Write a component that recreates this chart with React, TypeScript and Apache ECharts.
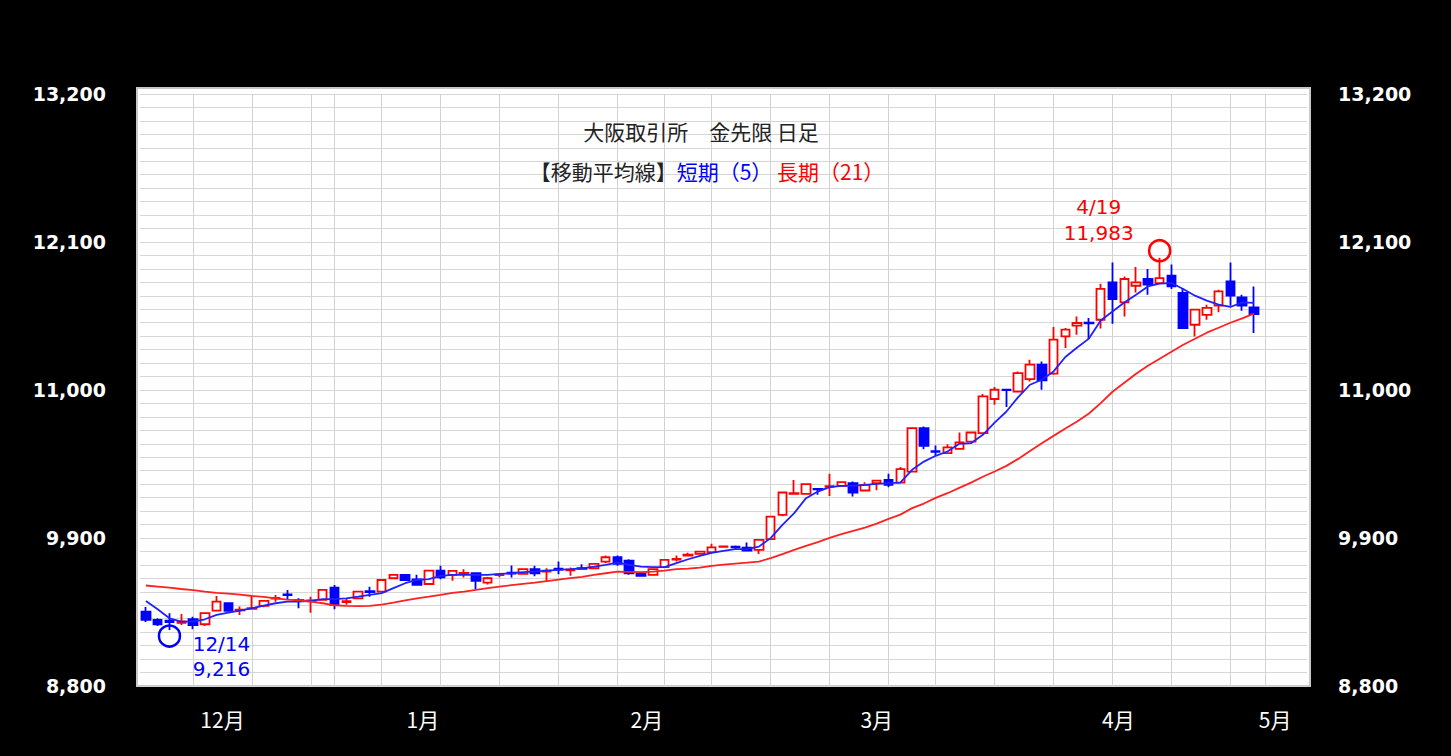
import React, { useEffect, useRef } from "react";
import * as echarts from "echarts";

const categories = [
  "12/12","12/13","12/14","12/15","12/18","12/19","12/20","12/21","12/22","12/25","12/26","12/27","12/28","12/29",
  "1/4","1/5","1/9","1/10","1/11","1/12","1/15","1/16","1/17","1/18","1/19","1/22","1/23","1/24","1/25","1/26","1/29","1/30","1/31",
  "2/1","2/2","2/5","2/6","2/7","2/8","2/9","2/13","2/14","2/15","2/16","2/19","2/20","2/21","2/22","2/26","2/27","2/28","2/29",
  "3/1","3/4","3/5","3/6","3/7","3/8","3/11","3/12","3/13","3/14","3/15","3/18","3/19","3/21","3/22","3/25","3/26","3/27","3/28","3/29",
  "4/1","4/2","4/3","4/4","4/5","4/8","4/9","4/10","4/11","4/12","4/15","4/16","4/17","4/18","4/19","4/22","4/23","4/24","4/25","4/26","4/30",
  "5/1","5/2","5/7","5/8","5/9","5/10",
];

const opens = [
  9353,9291,9285,9270,9296,9259,9360,9415,9362,9374,9395,9450,9480,9438,
  9430,9440,9531,9424,9452,9505,9501,9601,9626,9593,9558,9657,9626,9635,9638,9568,9624,9643,9633,
  9668,9650,9672,9660,9675,9675,9725,9757,9732,9638,9626,9683,9740,9770,9782,9795,9835,9835,9828,
  9812,9891,10072,10228,10228,10265,10280,10288,10308,10253,10308,10332,10312,10394,10717,10545,10531,10563,10617,10680,
  10933,11003,10989,11081,11188,11121,11398,11478,11500,11522,11800,11651,11775,11825,11795,11850,11721,11485,11559,11627,11807,
  11689,11614,
];
const closes = [
  9291,9259,9275,9280,9253,9341,9427,9358,9368,9378,9432,9455,9475,9432,
  9436,9514,9403,9430,9501,9498,9588,9626,9588,9551,9657,9608,9655,9640,9581,9601,9627,9636,9668,
  9638,9657,9666,9665,9670,9707,9757,9707,9638,9618,9668,9737,9745,9777,9799,9830,9838,9830,9806,
  9886,10059,10238,10233,10300,10262,10285,10315,10238,10295,10327,10295,10412,10717,10585,10540,10573,10610,10684,10952,
  11002,11000,11126,11188,11071,11374,11448,11498,11495,11751,11676,11825,11800,11783,11832,11770,11460,11597,11610,11733,11701,
  11627,11565,
];
const lows = [
  9276,9246,9216,9253,9222,9246,9360,9355,9328,9373,9385,9427,9440,9378,
  9345,9440,9370,9403,9452,9464,9498,9601,9588,9545,9550,9594,9583,9606,9519,9555,9608,9606,9630,
  9615,9576,9631,9620,9665,9670,9715,9693,9626,9613,9622,9680,9725,9765,9777,9790,9832,9815,9799,
  9782,9889,10062,10221,10224,10221,10213,10286,10208,10245,10255,10278,10305,10394,10560,10511,10526,10563,10610,10680,
  10890,10873,10982,11063,11002,11113,11312,11411,11379,11458,11493,11547,11725,11708,11795,11751,11453,11398,11522,11577,11627,
  11589,11423,
];
const highs = [
  9388,9304,9341,9335,9315,9345,9469,9418,9390,9464,9435,9477,9514,9452,
  9464,9517,9551,9450,9501,9538,9590,9630,9626,9626,9660,9693,9655,9668,9643,9610,9638,9695,9676,
  9693,9676,9725,9680,9705,9710,9770,9770,9742,9640,9670,9740,9770,9790,9805,9857,9842,9845,9866,
  9886,10062,10242,10332,10305,10270,10377,10322,10320,10315,10330,10377,10427,10720,10729,10587,10597,10684,10687,10970,
  11022,11007,11138,11225,11212,11468,11460,11547,11535,11790,11948,11844,11914,11899,11983,11932,11758,11597,11634,11745,11948,
  11708,11770,
];

const ma5 = [
  9432,9370,9303,9278,9278,9296,9328,9345,9360,9378,9397,9415,9427,9427,
  9432,9445,9445,9452,9464,9477,9490,9527,9564,9588,9595,9618,9626,9626,9626,9626,9633,9638,9646,
  9650,9657,9663,9668,9675,9687,9700,9717,9700,9687,9683,9683,9713,9742,9767,9790,9804,9817,9817,
  9836,9899,9998,10085,10196,10245,10278,10288,10288,10295,10303,10308,10312,10407,10468,10511,10543,10600,10605,10667,
  10758,10840,10947,11039,11076,11138,11245,11316,11382,11517,11584,11651,11708,11770,11790,11795,11751,11701,11664,11634,11617,
  11651,11648,
];
const ma21 = [
  9547,9539,9531,9521,9512,9501,9492,9487,9479,9469,9462,9452,9442,9437,
  9427,9415,9400,9395,9393,9395,9405,9420,9437,9452,9464,9477,9492,9501,9514,9527,9539,9549,9559,
  9568,9579,9591,9601,9611,9626,9638,9650,9648,9646,9650,9657,9668,9672,9680,9693,9702,9710,9717,
  9725,9750,9780,9812,9841,9869,9901,9928,9953,9977,10007,10042,10074,10122,10156,10198,10233,10273,10312,10355,
  10394,10436,10488,10546,10605,10659,10714,10766,10825,10903,10987,11054,11121,11180,11232,11284,11336,11381,11426,11463,11500,
  11533,11567,
];

const monthLabels = ["12月", "1月", "2月", "3月", "4月", "5月"];
const monthLabelPos = [6.5, 23.5, 42.5, 62, 82.5, 95.8];
const weekStartIdx = [4, 9, 14, 16, 20, 25, 30, 35, 40, 44, 48, 53, 58, 63, 67, 72, 77, 82, 87, 92, 95];

const yMin = 8800;
const yMax = 13200;
const yStep = 1100;

const lowMark = { date: "12/14", value: 9216, dateText: "12/14", valueText: "9,216" };
const highMark = { date: "4/19", value: 11983, dateText: "4/19", valueText: "11,983" };

const titleText = "大阪取引所　金先限 日足";

function fmt(v: number) {
  return String(v).replace(/\B(?=(\d{3})+(?!\d))/g, ",");
}

function textMark(date: string, value: number, text: string, color: string, offset: number[]) {
  return {
    coord: [date, value],
    symbol: "circle",
    symbolSize: 1,
    itemStyle: { color: "rgba(0,0,0,0)" },
    label: {
      show: true,
      position: "inside",
      formatter: text,
      offset,
      color,
      fontSize: 20,
      lineHeight: 20,
      fontFamily: "DejaVu Sans",
    },
  };
}

export default function App() {
  const ref = useRef<HTMLDivElement>(null);
  useEffect(() => {
    if (!ref.current) return;
    const chart = echarts.init(ref.current, undefined, { renderer: "svg" });
    const ohlc = opens.map((o, i) => [o, closes[i], lows[i], highs[i]]);
    const n = categories.length;
    const yLabel = {
      color: "#ffffff",
      fontFamily: "DejaVu Sans",
      fontWeight: "bold" as const,
      fontSize: 19,
      formatter: (v: number) => fmt(v),
    };
    chart.setOption({
      animation: false,
      backgroundColor: "#000000",
      graphic: [
        {
          type: "rect",
          z: -100,
          shape: { x: 137, y: 88, width: 1173, height: 598 },
          style: { fill: "#ffffff", stroke: "#c8c8c8", lineWidth: 2 },
          silent: true,
        },
        {
          type: "text",
          x: 701,
          y: 131,
          z: 10,
          style: {
            text: titleText,
            fill: "#222222",
            fontSize: 21,
            fontFamily: "Noto Sans CJK JP",
            textAlign: "center",
            textVerticalAlign: "middle",
          },
        },
        {
          type: "text",
          x: 707,
          y: 171,
          z: 10,
          style: {
            text: "{a|【移動平均線】}{b|短期（5）} {c|長期（21）}",
            fontSize: 21,
            fontFamily: "Noto Sans CJK JP",
            textAlign: "center",
            textVerticalAlign: "middle",
            rich: {
              a: { fill: "#222222", fontSize: 21, fontFamily: "Noto Sans CJK JP" },
              b: { fill: "#0000ff", fontSize: 21, fontFamily: "Noto Sans CJK JP" },
              c: { fill: "#ff0000", fontSize: 21, fontFamily: "Noto Sans CJK JP" },
            },
          },
        },
      ],
      grid: { left: 140, right: 144, top: 94, bottom: 70, containLabel: false },
      xAxis: [
        {
          type: "category",
          data: categories,
          boundaryGap: true,
          show: false,
        },
        {
          type: "value",
          min: -0.5,
          max: n - 0.5,
          position: "bottom",
          axisLine: { show: false },
          axisTick: { show: false, customValues: weekStartIdx },
          splitLine: { show: true, lineStyle: { color: "#d2d2d2", width: 1 } },
          axisLabel: {
            customValues: monthLabelPos,
            color: "#ffffff",
            fontSize: 21,
            fontFamily: "Noto Sans CJK JP",
            margin: 22,
            formatter: (v: number) => {
              const i = monthLabelPos.findIndex((p) => Math.abs(p - v) < 0.01);
              return i >= 0 ? monthLabels[i] : "";
            },
          },
        },
      ],
      yAxis: [
        {
          type: "value",
          min: yMin,
          max: yMax,
          interval: yStep,
          position: "left",
          axisLine: { show: false },
          axisTick: { show: false },
          minorTick: { show: false, splitNumber: 11 },
          splitLine: { show: true, lineStyle: { color: "#d6d6d6", width: 1 } },
          minorSplitLine: { show: true, lineStyle: { color: "#d6d6d6", width: 1 } },
          axisLabel: { ...yLabel, margin: 34 },
        },
        {
          type: "value",
          min: yMin,
          max: yMax,
          interval: yStep,
          position: "right",
          axisLine: { show: false },
          axisTick: { show: false },
          splitLine: { show: false },
          axisLabel: { ...yLabel, margin: 31 },
        },
      ],
      series: [
        {
          type: "candlestick",
          xAxisIndex: 0,
          yAxisIndex: 0,
          data: ohlc,
          barWidth: 9,
          silent: true,
          z: 2,
          itemStyle: {
            color: "#ffffff",
            color0: "#0000ff",
            borderColor: "#ff0000",
            borderColor0: "#0000ff",
            borderWidth: 1.8,
          },
          markPoint: {
            silent: true,
            data: [
              {
                coord: [lowMark.date, lowMark.value],
                symbol: "circle",
                symbolSize: 21,
                symbolOffset: [0, 6],
                itemStyle: { color: "rgba(0,0,0,0)", borderColor: "#0000ff", borderWidth: 2.5 },
                label: { show: false },
              },
              textMark(lowMark.date, lowMark.value, lowMark.dateText, "#0000ff", [52, 14]),
              textMark(lowMark.date, lowMark.value, lowMark.valueText, "#0000ff", [52, 39]),
              {
                coord: [highMark.date, highMark.value],
                symbol: "circle",
                symbolSize: 21,
                symbolOffset: [0, -7],
                itemStyle: { color: "rgba(0,0,0,0)", borderColor: "#ff0000", borderWidth: 2.5 },
                label: { show: false },
              },
              textMark(highMark.date, highMark.value, highMark.dateText, "#ff0000", [-61, -51]),
              textMark(highMark.date, highMark.value, highMark.valueText, "#ff0000", [-61, -25]),
            ],
          },
        },
        {
          type: "line",
          xAxisIndex: 0,
          yAxisIndex: 0,
          data: ma5,
          symbol: "none",
          silent: true,
          z: 3,
          lineStyle: { color: "#2020ff", width: 1.8 },
        },
        {
          type: "line",
          xAxisIndex: 0,
          yAxisIndex: 0,
          data: ma21,
          symbol: "none",
          silent: true,
          z: 3,
          lineStyle: { color: "#ff2020", width: 1.8 },
        },
      ],
    });
    return () => chart.dispose();
  }, []);
  return (
    <div
      ref={ref}
      style={{ position: "absolute", left: 0, top: 0, width: 1451, height: 756, background: "#000" }}
    />
  );
}
